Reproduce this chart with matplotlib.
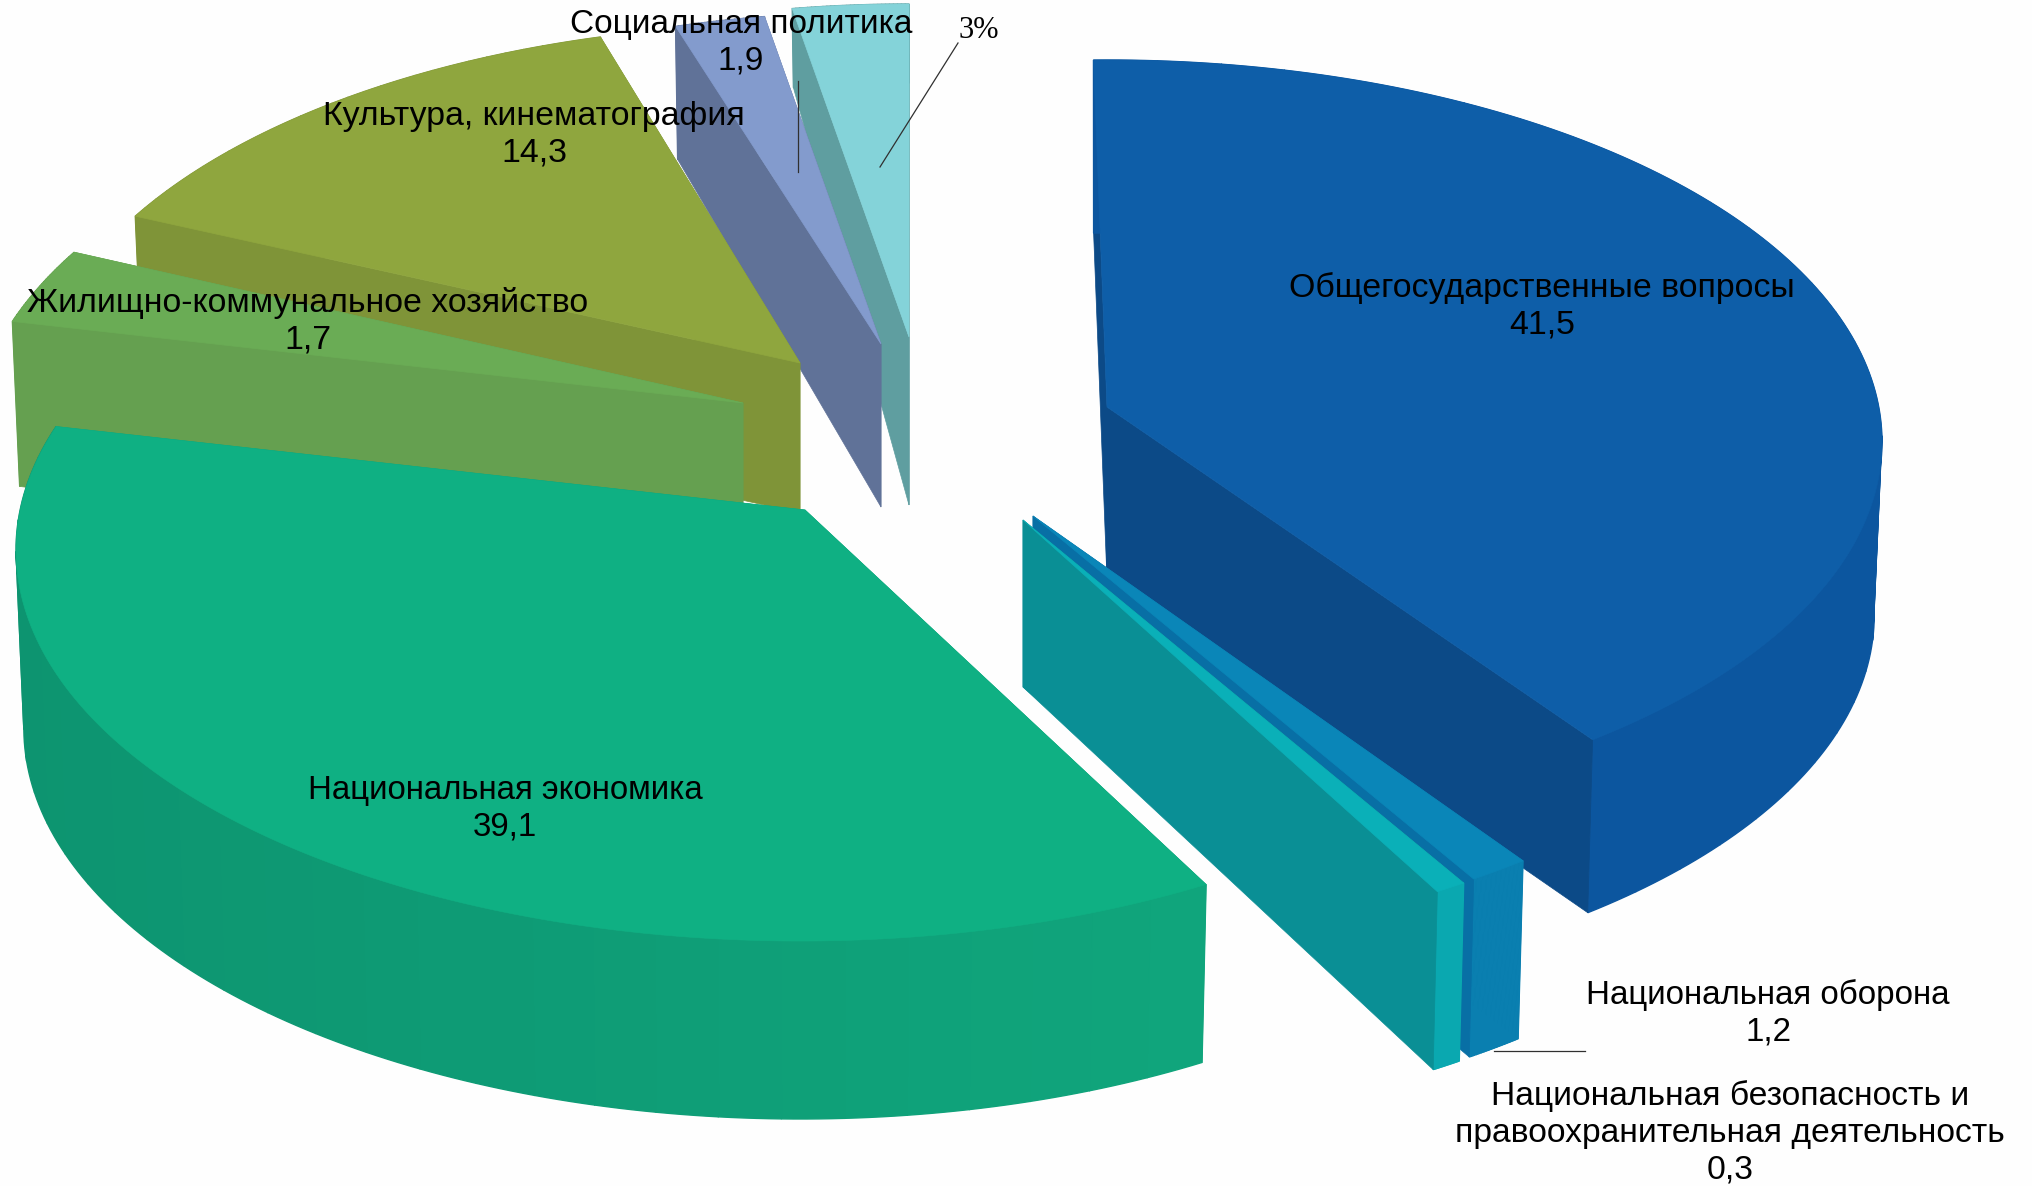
import numpy as np
import matplotlib
matplotlib.use('Agg')
import matplotlib.pyplot as plt
from matplotlib.colors import to_rgb

plt.rcParams['font.family'] = ['Liberation Sans', 'DejaVu Sans']

# Chart data
categories = ['Общегосударственные вопросы', 'Национальная оборона',
              'Национальная безопасность и\nправоохранительная деятельность',
              'Национальная экономика', 'Жилищно-коммунальное хозяйство',
              'Культура, кинематография', 'Социальная политика', '']
value_labels = ['41,5', '1,2', '0,3', '39,1', '1,7', '14,3', '1,9', '3%']
# share of the circle each slice takes in the picture (not the same as the labels)
drawn_shares = [39.5, 1.25, 0.64, 39.0, 3.14, 12.58, 1.67, 2.5]

# Layout of the exploded slices, in image pixels
center_x = [1107, 1033, 1023, 800, 743, 798, 881, 909]
center_y = [442, 556, 560, 550, 443, 405, 384, 377]
radius = [775, 782, 782, 784, 770, 763, 745, 747]
radius_y = [382, 391, 391, 391, 385, 381, 372, 373]
hub_lift = [35, 40, 40, 40, 40, 42, 40, 40]
hub_shift = [0, 0, 0, 5, 0, 2, 0, 0]
depth_hub = [173, 172, 167, 178, 170, 150, 163, 168]
depth_rim = [173, 178, 178, 178, 165, 150, 133, 79]
# small corrections in degrees where slices were pulled apart unevenly
start_adjust = [0, 0, 0, -0.8, 0, 0, 1.0, 0]
label_x = [1542, 1768, 1730, 505, 308, 534, 741, 979]
label_y = [306, 1013, 1133, 809, 321, 135, 43, 30]
label_size = [24.4, 23.9, 24.2, 23.8, 24.4, 24.4, 24.0, 22]

top_colors = ['#0e5ea8', '#0a86b8', '#0ab0b8', '#0fb083', '#6aac55', '#8fa63e', '#839bcd', '#84d3d9']
cut_colors = ['#0c4a87', '#086fa5', '#0a8f95', '#0da278', '#65a050', '#7f9438', '#607298', '#5f9ea0']
rim_left = ['#0c569f', '#0a7fb0', '#0aa8b0', '#0d9470', '#65a050', '#7f9438', '#607298', '#5f9ea0']
rim_right = ['#0c569f', '#0a7fb0', '#0aa8b0', '#10a57c', '#65a050', '#7f9438', '#607298', '#5f9ea0']

# slices are painted back to front
draw_order = [7, 6, 5, 4, 3, 0, 1, 2]

fig = plt.figure(figsize=(20.32, 11.86), dpi=100, facecolor='#fefefe')
ax = fig.add_axes([0, 0, 1, 1])
ax.set_xlim(0, 2032)
ax.set_ylim(1186, 0)
ax.axis('off')

# Turn the shares into start and end angles, going clockwise
sweeps = np.array(drawn_shares) * 3.6
ends = 91 - np.cumsum(sweeps)
starts = ends + sweeps + np.array(start_adjust)


def mix(c1, c2, f):
    return tuple((1 - f) * np.array(to_rgb(c1)) + f * np.array(to_rgb(c2)))


for i in draw_order:
    cx, cy, a, b = center_x[i], center_y[i], radius[i], radius_y[i]
    hub = np.array([cx + hub_shift[i], cy - hub_lift[i]])
    t = np.radians(np.linspace(starts[i], ends[i], 151))
    arc_x = cx + a * np.cos(t)
    arc_y = cy - b * np.sin(t)
    low_x = cx + 0.99 * a * np.cos(t)
    low_y = cy - b * np.sin(t) + depth_rim[i]
    hub_low = hub + [0, depth_hub[i]]

    # one cut face, the rim, then the other cut face
    ax.fill([hub[0], arc_x[0], low_x[0], hub_low[0]],
            [hub[1], arc_y[0], low_y[0], hub_low[1]], color=cut_colors[i], lw=0.5)

    # rim in strips so it can get lighter from left to right
    x_min, x_max = arc_x.min(), arc_x.max()
    for k in range(0, len(t) - 1, 5):
        f = (arc_x[k] - x_min) / (x_max - x_min)
        e = k + 6
        ax.fill(np.r_[arc_x[k:e], low_x[k:e][::-1]], np.r_[arc_y[k:e], low_y[k:e][::-1]],
                color=mix(rim_left[i], rim_right[i], f), lw=1)

    ax.fill([hub[0], arc_x[-1], low_x[-1], hub_low[0]],
            [hub[1], arc_y[-1], low_y[-1], hub_low[1]], color=cut_colors[i], lw=0.5)

    ax.fill(np.r_[hub[0], arc_x], np.r_[hub[1], arc_y], color=top_colors[i], lw=0.5)

# Leader lines
ax.plot([798, 798], [81, 172], color='#303030', lw=0.9)
ax.plot([958, 880], [43, 167], color='#303030', lw=0.9)
ax.plot([1494, 1585], [1051, 1051], color='#303030', lw=0.9)

# Labels
for i in range(len(categories)):
    if categories[i] == '':
        ax.text(label_x[i], label_y[i], value_labels[i], ha='center', va='center',
                fontsize=label_size[i], family=['Liberation Serif', 'DejaVu Serif'], color='black')
    else:
        ax.text(label_x[i], label_y[i], categories[i] + '\n' + value_labels[i],
                ha='center', va='center', fontsize=label_size[i], linespacing=1.24, color='black')

fig.savefig('out.png', dpi=100, facecolor=fig.get_facecolor())
